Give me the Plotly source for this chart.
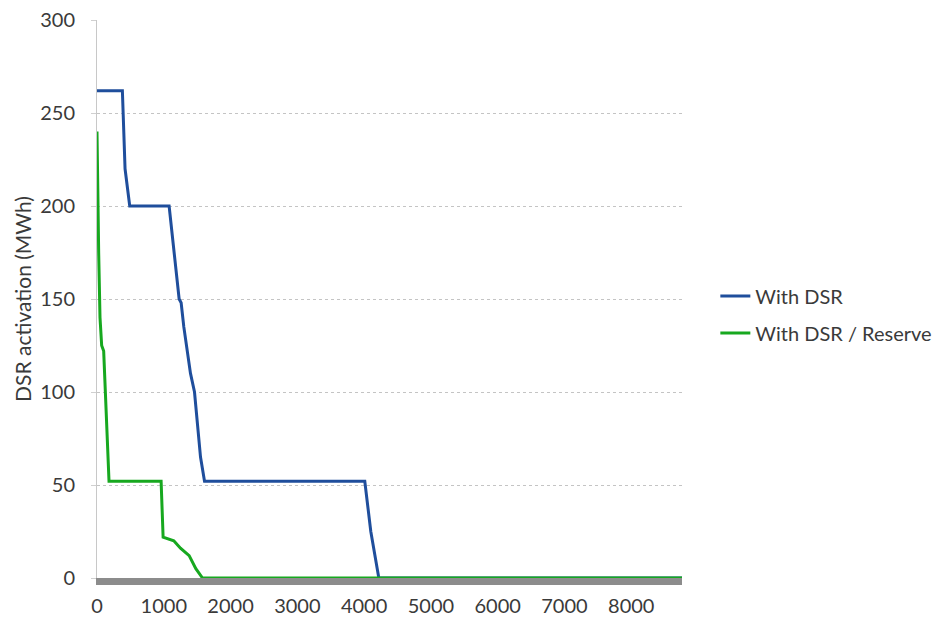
import plotly.graph_objects as go

# Data (hours of year vs DSR activation, MWh)
blue_x = [0, 380, 420, 460, 490, 1080, 1110, 1170, 1230, 1260, 1300, 1400, 1460, 1550, 1610, 4010, 4100, 4220, 8760]
blue_y = [262, 262, 220, 210, 200, 200, 190, 170, 150, 148, 135, 110, 100, 65, 52, 52, 25, 0, 0]

green_x = [0, 10, 25, 45, 55, 70, 100, 140, 180, 960, 990, 1150, 1250, 1380, 1480, 1580, 8760]
green_y = [240, 200, 175, 140, 135, 125, 122, 90, 52, 52, 22, 20, 16, 12, 5, 0, 0]

series_names = ["With DSR", "With DSR / Reserve"]
x_ticks = [0, 1000, 2000, 3000, 4000, 5000, 6000, 7000, 8000]
y_ticks = [0, 50, 100, 150, 200, 250, 300]

font_family = "Lato, Open Sans, sans-serif"
text_color = "#3a3a3a"

fig = go.Figure()
fig.add_trace(go.Scatter(x=blue_x, y=blue_y, mode="lines", name=series_names[0],
                         legendgroup="a", line=dict(color="#1f4e9c", width=3)))
fig.add_trace(go.Scatter(x=green_x, y=green_y, mode="lines", name=series_names[1],
                         legendgroup="b", line=dict(color="#17a81f", width=3)))

fig.update_layout(
    width=946, height=619,
    margin=dict(l=97, r=264, t=20, b=41, autoexpand=False),
    paper_bgcolor="white", plot_bgcolor="white",
    font=dict(family=font_family, size=20, color=text_color),
    legend=dict(x=1.057, y=0.472, xanchor="left", yanchor="middle",
                font=dict(size=20, color=text_color), itemwidth=30,
                tracegroupgap=8, bgcolor="rgba(0,0,0,0)"),
    showlegend=True,
)
fig.update_xaxes(range=[0, 8760], tickvals=x_ticks, showgrid=False, zeroline=False,
                 showline=True, linecolor="#8c8c8c", linewidth=7, automargin=False,
                 ticks="", ticklabelstandoff=4, tickfont=dict(size=20, color=text_color))
fig.update_yaxes(range=[0, 300], tickvals=y_ticks, showgrid=True, gridcolor="#c4c4c4",
                 griddash="dot", gridwidth=1, zeroline=False, automargin=False,
                 showline=True, linecolor="#c8c8c8", linewidth=1,
                 ticks="outside", ticklen=5, tickcolor="#d0d0d0", ticklabelstandoff=12,
                 title=dict(text="DSR activation (MWh)", font=dict(size=21, color=text_color), standoff=2),
                 tickfont=dict(size=20, color=text_color))

fig.write_html("out.html", post_script="document.body.style.margin='0';",
               config={"displayModeBar": False})
